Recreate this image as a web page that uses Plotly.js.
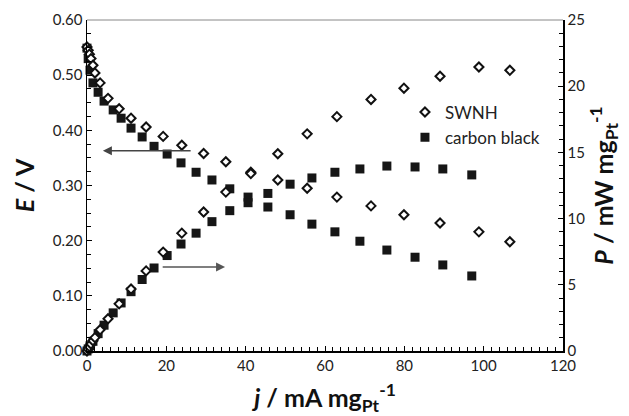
<!DOCTYPE html>
<html><head><meta charset="utf-8">
<script src="https://cdn.plot.ly/plotly-3.0.1.min.js"></script>
<style>html,body{margin:0;padding:0;background:#fff}#chart{width:629px;height:416px}</style>
</head><body><div id="chart"></div>
<script>
// SWNH
const swnhJ = [0, 0.3, 0.6, 1.0, 1.5, 2.0, 3.3, 5.3, 8.1, 11.1, 14.9, 19.2, 23.9, 29.4, 35.0, 41.3, 48.1, 55.5, 63.0, 71.6, 79.9, 89.0, 98.8, 106.6];
const swnhE = [0.551, 0.545, 0.538, 0.530, 0.518, 0.504, 0.486, 0.458, 0.439, 0.422, 0.406, 0.389, 0.373, 0.358, 0.343, 0.324, 0.310, 0.295, 0.279, 0.263, 0.247, 0.232, 0.216, 0.198];
const swnhP = [0, 0.16, 0.32, 0.53, 0.78, 1.01, 1.60, 2.43, 3.56, 4.68, 6.05, 7.47, 8.9, 10.5, 12.0, 13.4, 14.9, 16.4, 17.7, 19.0, 19.85, 20.75, 21.45, 21.2];
// carbon black
const cbJ = [0, 0.3, 0.76, 1.5, 2.8, 4.3, 6.6, 8.6, 11.1, 13.9, 16.9, 20.2, 23.7, 27.5, 31.5, 36.0, 40.6, 45.6, 51.2, 56.7, 62.5, 68.8, 75.6, 82.7, 89.7, 97.0];
const cbE = [0.549, 0.530, 0.509, 0.486, 0.469, 0.453, 0.437, 0.422, 0.404, 0.388, 0.371, 0.357, 0.341, 0.324, 0.310, 0.294, 0.279, 0.261, 0.247, 0.230, 0.216, 0.199, 0.183, 0.170, 0.156, 0.136];
const cbP = [0, 0.16, 0.39, 0.73, 1.31, 1.95, 2.88, 3.63, 4.48, 5.40, 6.27, 7.21, 8.08, 8.9, 9.77, 10.6, 11.2, 11.9, 12.6, 13.07, 13.5, 13.75, 13.97, 13.9, 13.75, 13.3];
const seriesNames = ["SWNH", "carbon black"];

const FONT = "Lato, 'Open Sans', sans-serif";
const diamondMarker = {symbol: "diamond", size: 7, color: "#ffffff", line: {color: "#111111", width: 2}};
const squareMarker = {symbol: "square", size: 9, color: "#161616", line: {width: 0}};

const traces = [
  {x: cbJ, y: cbE, yaxis: "y", type: "scatter", mode: "markers", name: seriesNames[1], legendrank: 2, marker: squareMarker, cliponaxis: false},
  {x: cbJ, y: cbP, yaxis: "y2", type: "scatter", mode: "markers", name: seriesNames[1], showlegend: false, marker: squareMarker, cliponaxis: false},
  {x: swnhJ, y: swnhE, yaxis: "y", type: "scatter", mode: "markers", name: seriesNames[0], legendrank: 1, marker: diamondMarker, cliponaxis: false},
  {x: swnhJ, y: swnhP, yaxis: "y2", type: "scatter", mode: "markers", name: seriesNames[0], showlegend: false, marker: diamondMarker, cliponaxis: false}
];

const layout = {
  width: 629, height: 416,
  margin: {l: 87, r: 66, t: 20, b: 65},
  paper_bgcolor: "#fff", plot_bgcolor: "#fff",
  font: {family: FONT, size: 15, color: "#222"},
  showlegend: true,
  legend: {x: 0.668, y: 0.775, xanchor: "left", yanchor: "top", bgcolor: "rgba(0,0,0,0)", font: {size: 17, color: "#222"}, itemwidth: 30, tracegroupgap: 0},
  xaxis: {
    range: [0, 120], dtick: 20, tick0: 0, showgrid: false, zeroline: false,
    showline: true, linecolor: "#000", linewidth: 1.5,
    ticks: "inside", ticklen: 5, tickcolor: "#000", tickwidth: 1,
    minor: {dtick: 2, ticks: "inside", ticklen: 4, tickcolor: "#000", tickwidth: 1},
    tickfont: {size: 15, color: "#222"},
    title: {text: "<b><i>j</i> / mA mg<sub>Pt</sub><sup>-1</sup></b>", font: {size: 25, color: "#111"}, standoff: 24}
  },
  yaxis: {
    range: [0, 0.6], dtick: 0.1, tick0: 0, tickformat: ".2f", showgrid: false, zeroline: false,
    showline: true, linecolor: "#000", linewidth: 1.5,
    ticks: "inside", ticklen: 5, tickcolor: "#000", tickwidth: 1,
    minor: {dtick: 0.025, ticks: "inside", ticklen: 4, tickcolor: "#000", tickwidth: 1},
    tickfont: {size: 15, color: "#222"},
    title: {text: "<b><i>E</i> / V</b>", font: {size: 25, color: "#111"}, standoff: 11}
  },
  yaxis2: {
    overlaying: "y", side: "right", anchor: "x",
    range: [0, 25], dtick: 5, tick0: 0, showgrid: false, zeroline: false,
    showline: true, linecolor: "#000", linewidth: 1.5,
    ticks: "inside", ticklen: 5, tickcolor: "#000", tickwidth: 1,
    minor: {dtick: 1, ticks: "inside", ticklen: 4, tickcolor: "#000", tickwidth: 1},
    tickfont: {size: 15, color: "#222"},
    title: {text: "<b><i>P</i> / mW mg<sub>Pt</sub><sup>-1</sup></b>", font: {size: 25, color: "#111"}, standoff: 5}
  },
  shapes: [
    {type: "line", xref: "paper", yref: "paper", x0: 0, x1: 1, y0: 1, y1: 1, line: {color: "#888", width: 1}}
  ],
  annotations: [
    {x: 4.0, y: 0.363, xref: "x", yref: "y", ax: 26.5, ay: 0.363, axref: "x", ayref: "y",
     showarrow: true, arrowhead: 2, arrowsize: 1.2, arrowwidth: 1.5, arrowcolor: "#444", text: ""},
    {x: 34.8, y: 6.35, xref: "x", yref: "y2", ax: 18.7, ay: 6.35, axref: "x", ayref: "y2",
     showarrow: true, arrowhead: 2, arrowsize: 1.2, arrowwidth: 1.5, arrowcolor: "#555", text: ""}
  ]
};

Plotly.newPlot("chart", traces, layout, {displayModeBar: false, staticPlot: true});
</script>
</body></html>
